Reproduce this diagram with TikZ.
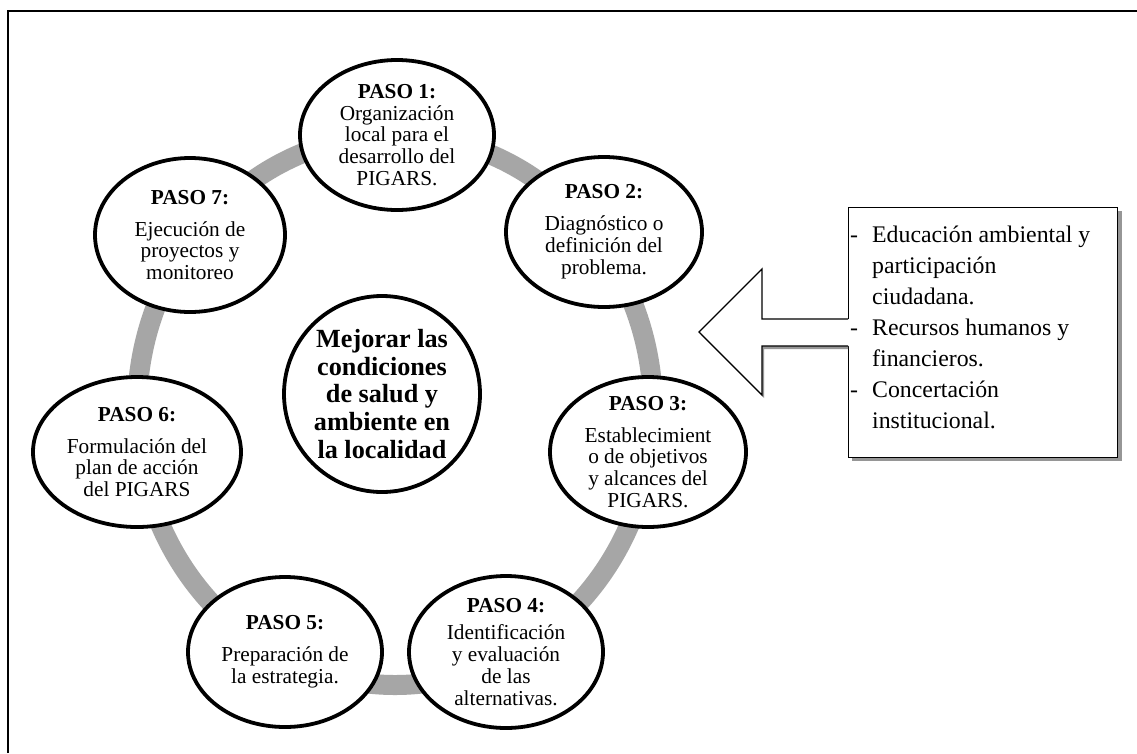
\documentclass[tikz,border=0pt]{standalone}
\usepackage{fontspec}
\setmainfont{Liberation Serif}
\usetikzlibrary{shapes.geometric}
\definecolor{ringgray}{RGB}{166,166,166}
\definecolor{shadegray}{RGB}{150,150,150}
\tikzset{
  stepell/.style={ellipse, draw=black, line width=3.8pt, fill=white, inner sep=0pt},
  steptext/.style={align=center, inner sep=0pt, font=\fontsize{21.3}{21.9}\selectfont},
  goaltext/.style={align=center, inner sep=0pt, font=\bfseries\fontsize{26.2}{27.6}\selectfont},
  ringline/.style={draw=ringgray, line width=20pt},
  notebox/.style={draw=black, line width=1.3pt, fill=white, minimum width=269pt, minimum height=250pt, inner sep=0pt},
  notetext/.style={align=left, inner sep=0pt, font=\fontsize{23.8}{31}\selectfont},
  thinline/.style={draw=black, line width=1.3pt},
}
\newcommand{\hang}{\hspace*{24pt}}
\newcommand{\bullitem}{\makebox[24pt][l]{\hspace*{2pt}-}}
\begin{document}
\begin{tikzpicture}[x=1pt, y=-1pt]
\useasboundingbox (0,0) rectangle (1137,753);
\fill[white] (0,0) rectangle (1137,753);

% frame (runs off the right and bottom of the page)
\draw[line width=2.2pt] (8,753) -- (8,11) -- (1137,11);

% cycle ring behind the steps
\draw[ringline] (395,410) ellipse [x radius=258, y radius=275];

% steps
\node[stepell, minimum width=194pt, minimum height=150pt] (p1) at (397,135) {};
\node[stepell, minimum width=196pt, minimum height=150pt] (p2) at (604,232) {};
\node[stepell, minimum width=196pt, minimum height=150pt] (p3) at (648,452) {};
\node[stepell, minimum width=194pt, minimum height=152pt] (p4) at (506,652) {};
\node[stepell, minimum width=194pt, minimum height=150pt] (p5) at (285,652) {};
\node[stepell, minimum width=208pt, minimum height=150pt] (p6) at (137,452) {};
\node[stepell, minimum width=190pt, minimum height=154pt] (p7) at (190,235) {};
\node[stepell, minimum width=196pt, minimum height=196pt] (goal) at (382,394) {};

\node[steptext] (p1t) at (p1) {\textbf{PASO 1:}\\Organización\\local para el\\desarrollo del\\PIGARS.};
\node[steptext] (p2t) at (p2) {\textbf{PASO 2:}\\[10pt]Diagnóstico o\\definición del\\problema.};
\node[steptext] (p3t) at (p3) {\textbf{PASO 3:}\\[10pt]Establecimient\\o de objetivos\\y alcances del\\PIGARS.};
\node[steptext] (p4t) at (p4) {\textbf{PASO 4:}\\[5pt]Identificación\\y evaluación\\de las\\alternativas.};
\node[steptext] (p5t) at (p5) {\textbf{PASO 5:}\\[10pt]Preparación de\\la estrategia.};
\node[steptext] (p6t) at (p6) {\textbf{PASO 6:}\\[10pt]Formulación del\\plan de acción\\del PIGARS};
\node[steptext] (p7t) at (p7) {\textbf{PASO 7:}\\[10pt]Ejecución de\\proyectos y\\monitoreo};
\node[goaltext] (goalt) at (goal) {Mejorar las\\condiciones\\de salud y\\ambiente en\\la localidad};

% note box with its shadow
\fill[shadegray] (852,211) rectangle (1122,461);
\node[notebox, anchor=north west] (note) at (848,207) {};
\node[notetext, anchor=north west] (notet) at (848,226) {%
\bullitem Educación ambiental y\\
\hang participación\\
\hang ciudadana.\\
\bullitem Recursos humanos y\\
\hang financieros.\\
\bullitem Concertación\\
\hang institucional.};

% block arrow pointing at the cycle
\coordinate (tip) at (699,332);
\fill[shadegray] (701,335) -- (764,398) -- (764,349) -- (848,349) -- (848,322) -- cycle;
\fill[white] (tip) -- (762,269) -- (762,319) -- (850,319) -- (850,346) -- (762,346) -- (762,395) -- cycle;
\draw[thinline] (848,319) -- (762,319) -- (762,269) -- (tip) -- (762,395) -- (762,346) -- (848,346);
\end{tikzpicture}
\end{document}
